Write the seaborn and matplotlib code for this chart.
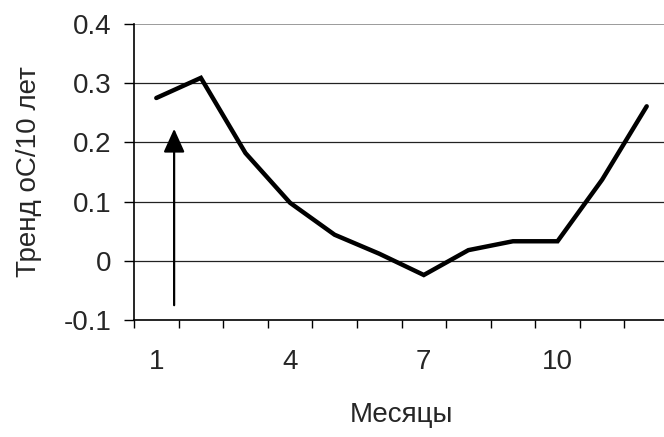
import matplotlib
matplotlib.use("Agg")
import matplotlib.pyplot as plt
import seaborn as sns
import pandas as pd

months = [1, 2, 3, 4, 5, 6, 7, 8, 9, 10, 11, 12]
trend = [0.275, 0.309, 0.182, 0.098, 0.044, 0.012, -0.024, 0.018, 0.033, 0.033, 0.137, 0.261]
x_labels = ["1", "4", "7", "10"]
x_label_pos = [1, 4, 7, 10]
y_ticks = [-0.1, 0, 0.1, 0.2, 0.3, 0.4]
arrow_x = 1.4
arrow_y = [-0.075, 0.223]

sns.set_theme(style="white")
plt.rcParams['font.family'] = ['Liberation Sans', 'DejaVu Sans']

df = pd.DataFrame({"month": months, "trend": trend})

fig = plt.figure(figsize=(6.64, 4.37), dpi=100)
ax = fig.add_axes([134/664, 117/437, 535/664, 296/437])

for yv in y_ticks[1:-1]:
    ax.axhline(yv, color="#222222", lw=0.9, zorder=1)
ax.axhline(0.4, color="#8a8a8a", lw=1.2, zorder=1)

sns.lineplot(data=df, x="month", y="trend", ax=ax, color="black", lw=3.2,
             zorder=3, solid_joinstyle="miter")

ax.annotate("", xy=(arrow_x, arrow_y[1]), xytext=(arrow_x, arrow_y[0]),
            arrowprops=dict(arrowstyle="-|>,head_length=0.6,head_width=0.27",
                            color="black", lw=1.6, mutation_scale=24,
                            shrinkA=0, shrinkB=0), zorder=4)

ax.set_xlim(0.5, 12.5)
ax.set_ylim(-0.1, 0.4)
ax.set_yticks(y_ticks)
ax.set_yticklabels(["-0.1", "0", "0.1", "0.2", "0.3", "0.4"])
ax.set_xticks(x_label_pos)
ax.set_xticklabels(x_labels)
ax.set_xticks([m + 0.5 - 1 for m in months], minor=True)

ax.tick_params(axis="y", which="major", direction="out", length=7, width=1,
               color="black", labelsize=20, pad=9, left=True)
ax.tick_params(axis="x", which="major", length=0, labelsize=20, pad=21, bottom=True)
ax.tick_params(axis="x", which="minor", direction="out", length=6, width=1,
               color="black", bottom=True)

for s in ["top", "right"]:
    ax.spines[s].set_visible(False)
for s in ["left", "bottom"]:
    ax.spines[s].set_color("black")
    ax.spines[s].set_linewidth(1.2)

ax.set_xlabel("Месяцы", fontsize=20, labelpad=19)
ax.set_ylabel("Тренд оС/10 лет", fontsize=20, labelpad=16)

fig.savefig("out.png", dpi=100)
